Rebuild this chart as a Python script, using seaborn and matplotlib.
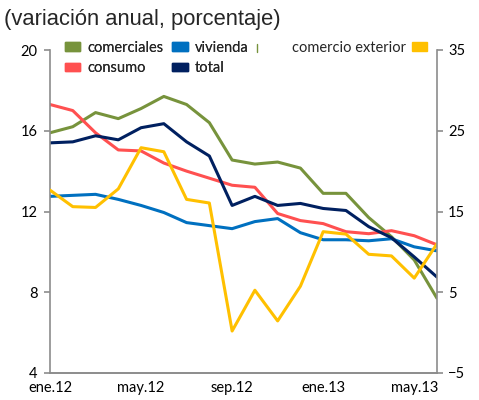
import matplotlib
matplotlib.use("Agg")
import matplotlib.pyplot as plt
from matplotlib.patches import Patch
from matplotlib.lines import Line2D
import seaborn as sns
import pandas as pd

months = ["ene.12", "feb.12", "mar.12", "abr.12", "may.12", "jun.12", "jul.12", "ago.12",
          "sep.12", "oct.12", "nov.12", "dic.12", "ene.13", "feb.13", "mar.13", "abr.13",
          "may.13", "jun.13"]
comerciales = [15.9, 16.2, 16.9, 16.6, 17.1, 17.7, 17.3, 16.4, 14.55, 14.35, 14.45, 14.15,
               12.9, 12.9, 11.7, 10.75, 9.6, 7.7]
consumo = [17.3, 17.0, 15.9, 15.05, 15.0, 14.4, 14.0, 13.65, 13.3, 13.2, 11.9, 11.55,
           11.4, 11.0, 10.9, 11.05, 10.8, 10.35]
vivienda = [12.75, 12.8, 12.85, 12.6, 12.3, 11.95, 11.45, 11.3, 11.15, 11.5, 11.65, 10.95,
            10.6, 10.6, 10.55, 10.65, 10.25, 10.05]
total = [15.4, 15.45, 15.75, 15.55, 16.15, 16.35, 15.45, 14.75, 12.3, 12.75, 12.3, 12.4,
         12.15, 12.05, 11.25, 10.7, 9.75, 8.75]
comercio_exterior = [17.65, 15.6, 15.5, 17.8, 22.9, 22.4, 16.5, 16.05, 0.2, 5.25, 1.45, 5.75,
                     12.5, 12.2, 9.7, 9.5, 6.75, 11.0]
tick_labels = ["ene.12", "may.12", "sep.12", "ene.13", "may.13"]

colors = {"comerciales": "#77933C", "consumo": "#FF5050", "vivienda": "#0070C0",
          "total": "#002060", "comercio exterior": "#FFC000"}

idx = list(range(len(months)))
df = pd.DataFrame({"mes": idx, "comerciales": comerciales, "consumo": consumo,
                   "vivienda": vivienda, "total": total})
long = df.melt(id_vars="mes", var_name="serie", value_name="valor")
df2 = pd.DataFrame({"mes": idx, "valor": comercio_exterior})

sns.set_style("white")
plt.rcParams["font.family"] = ["Lato", "DejaVu Sans"]

fig = plt.figure(figsize=(4.79, 4.0), dpi=100)
ax = fig.add_axes([50/479, 1-373/400, (437-50)/479, (373-50)/400])
lw = 2.2
sns.lineplot(data=long, x="mes", y="valor", hue="serie",
             hue_order=["comerciales", "consumo", "vivienda", "total"],
             palette=colors, lw=lw, ax=ax, legend=False)
ax2 = ax.twinx()
sns.lineplot(data=df2, x="mes", y="valor", color=colors["comercio exterior"], lw=lw,
             ax=ax2, legend=False)

ax.set_xlim(0, len(months)-1)
ax.set_ylim(4, 20)
ax.set_yticks([4, 8, 12, 16, 20])
ax2.set_ylim(-5, 35)
ax2.set_yticks([-5, 5, 15, 25, 35])
ax.set_xticks([months.index(t) for t in tick_labels])
ax.set_xticklabels(tick_labels)
for a in (ax, ax2):
    a.set_xlabel("")
    a.set_ylabel("")
    for s in a.spines.values():
        s.set_color("#8C8C8C")
        s.set_linewidth(1.2)
    a.spines["top"].set_visible(False)
    a.tick_params(colors="#8C8C8C", labelcolor="black", labelsize=10.5,
                  length=4, width=1.2, direction="out")
ax.spines["right"].set_visible(False)
ax2.spines["left"].set_visible(False)
ax.tick_params(axis="y", pad=5)
ax2.tick_params(axis="y", pad=4)
ax.tick_params(axis="x", pad=2)

fig.text(4/479, 1-19/400, "(variación anual, porcentaje)", fontsize=15.8,
         family=["Liberation Sans", "DejaVu Sans"], va="center", ha="left")

h = [Patch(color=colors[k]) for k in ["comerciales", "consumo", "vivienda", "total"]]
leg = ax.legend(h, ["comerciales", "consumo", "vivienda", "total"], ncol=2,
                loc="upper left", bbox_to_anchor=(65/479, 1-41/400),
                bbox_transform=fig.transFigure, frameon=False, fontsize=10.5,
                handlelength=1.05, handleheight=0.55, handletextpad=0.45,
                columnspacing=0.65, labelspacing=0.42, borderpad=0, borderaxespad=0)
ax.add_artist(leg)
leg2 = ax2.legend([Patch(color=colors["comercio exterior"])], ["comercio exterior"],
                  loc="upper right", bbox_to_anchor=(427/479, 1-41/400),
                  bbox_transform=fig.transFigure, frameon=False, fontsize=10.5,
                  handlelength=1.05, handleheight=0.55, handletextpad=0.4,
                  markerfirst=False, borderpad=0, borderaxespad=0)
fig.add_artist(Line2D([257/479, 257/479], [1-44/400, 1-52/400], color="#77933C", lw=1,
                      transform=fig.transFigure))

fig.savefig("out.png", dpi=100)
